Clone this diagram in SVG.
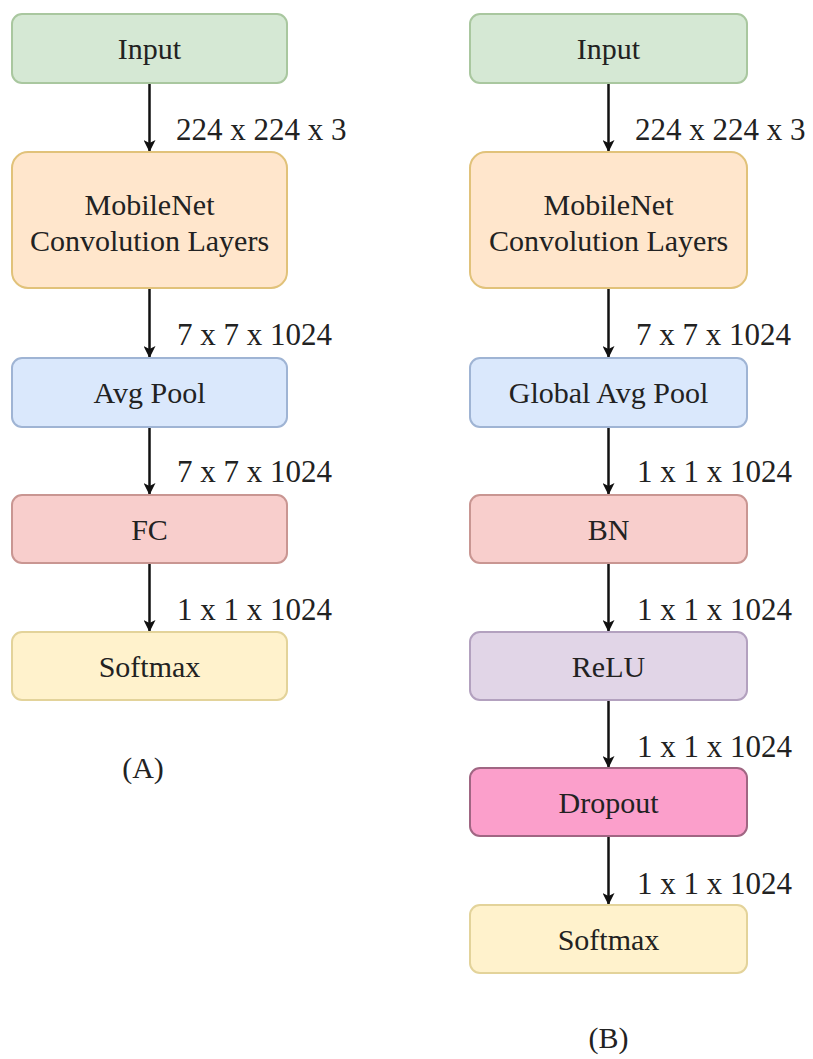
<svg xmlns="http://www.w3.org/2000/svg" width="813" height="1059" viewBox="0 0 813 1059">
<style>
text{font-family:"Liberation Serif","Times New Roman",serif;fill:#222;}
.n{font-family:"Liberation Serif","Times New Roman",serif;font-size:30px;text-anchor:middle;}
.l{font-size:31px;}
.b{stroke-width:2;}
.c{stroke:#111;stroke-width:2.5;fill:none;marker-end:url(#ar);}
</style>
<defs>
<marker id="ar" markerWidth="12" markerHeight="12" viewBox="0 0 12 12" refX="11" refY="6" orient="auto" markerUnits="userSpaceOnUse">
<path d="M0,0 L12,6 L0,12 L3,6 Z" fill="#111"/>
</marker>
</defs>
<rect width="813" height="1059" fill="#fff"/>
<g id="connectors">
<line class="c" x1="149.5" y1="83" x2="149.5" y2="151"/>
<line class="c" x1="149.5" y1="288" x2="149.5" y2="357"/>
<line class="c" x1="149.5" y1="427" x2="149.5" y2="494"/>
<line class="c" x1="149.5" y1="563" x2="149.5" y2="631"/>
<line class="c" x1="608.5" y1="83" x2="608.5" y2="151"/>
<line class="c" x1="608.5" y1="288" x2="608.5" y2="357"/>
<line class="c" x1="608.5" y1="427" x2="608.5" y2="494"/>
<line class="c" x1="608.5" y1="563" x2="608.5" y2="631"/>
<line class="c" x1="608.5" y1="700" x2="608.5" y2="767"/>
<line class="c" x1="608.5" y1="836" x2="608.5" y2="904"/>
<text class="l" x="176" y="140">224 x 224 x 3</text>
<text class="l" x="177" y="345">7 x 7 x 1024</text>
<text class="l" x="177" y="482">7 x 7 x 1024</text>
<text class="l" x="177" y="620">1 x 1 x 1024</text>
<text class="l" x="635" y="140">224 x 224 x 3</text>
<text class="l" x="636" y="345">7 x 7 x 1024</text>
<text class="l" x="637" y="482">1 x 1 x 1024</text>
<text class="l" x="637" y="620">1 x 1 x 1024</text>
<text class="l" x="637" y="757">1 x 1 x 1024</text>
<text class="l" x="637" y="894">1 x 1 x 1024</text>
</g>
<g id="a-input"><rect class="b" x="12" y="14" width="275" height="69" rx="10" fill="#d5e8d4" stroke="#a9c79f"/><text class="n" x="149.5" y="59">Input</text></g>
<g id="a-mobilenet"><rect class="b" x="12" y="152" width="275" height="136" rx="16" fill="#ffe6cc" stroke="#e1c27a"/><text class="n" x="149.5" y="215">MobileNet</text><text class="n" x="149.5" y="251">Convolution Layers</text></g>
<g id="a-avgpool"><rect class="b" x="12" y="358" width="275" height="69" rx="10" fill="#dae8fc" stroke="#9fb4d4"/><text class="n" x="149.5" y="403">Avg Pool</text></g>
<g id="a-fc"><rect class="b" x="12" y="495" width="275" height="68" rx="10" fill="#f8cecc" stroke="#c99692"/><text class="n" x="149.5" y="540">FC</text></g>
<g id="a-softmax"><rect class="b" x="12" y="632" width="275" height="68" rx="10" fill="#fff2cc" stroke="#e3d39a"/><text class="n" x="149.5" y="677">Softmax</text></g>
<g id="label-a"><text class="n" x="143" y="778">(A)</text></g>
<g id="b-input"><rect class="b" x="470" y="14" width="277" height="69" rx="10" fill="#d5e8d4" stroke="#a9c79f"/><text class="n" x="608.5" y="59">Input</text></g>
<g id="b-mobilenet"><rect class="b" x="470" y="152" width="277" height="136" rx="16" fill="#ffe6cc" stroke="#e1c27a"/><text class="n" x="608.5" y="215">MobileNet</text><text class="n" x="608.5" y="251">Convolution Layers</text></g>
<g id="b-gap"><rect class="b" x="470" y="358" width="277" height="69" rx="10" fill="#dae8fc" stroke="#9fb4d4"/><text class="n" x="608.5" y="403">Global Avg Pool</text></g>
<g id="b-bn"><rect class="b" x="470" y="495" width="277" height="68" rx="10" fill="#f8cecc" stroke="#c99692"/><text class="n" x="608.5" y="540">BN</text></g>
<g id="b-relu"><rect class="b" x="470" y="632" width="277" height="68" rx="10" fill="#e1d5e7" stroke="#b3a1bf"/><text class="n" x="608.5" y="677">ReLU</text></g>
<g id="b-dropout"><rect class="b" x="470" y="768" width="277" height="68" rx="10" fill="#fb9fcb" stroke="#a06683"/><text class="n" x="608.5" y="813">Dropout</text></g>
<g id="b-softmax"><rect class="b" x="470" y="905" width="277" height="68" rx="10" fill="#fff2cc" stroke="#e3d39a"/><text class="n" x="608.5" y="950">Softmax</text></g>
<g id="label-b"><text class="n" x="608.5" y="1048">(B)</text></g>
</svg>
